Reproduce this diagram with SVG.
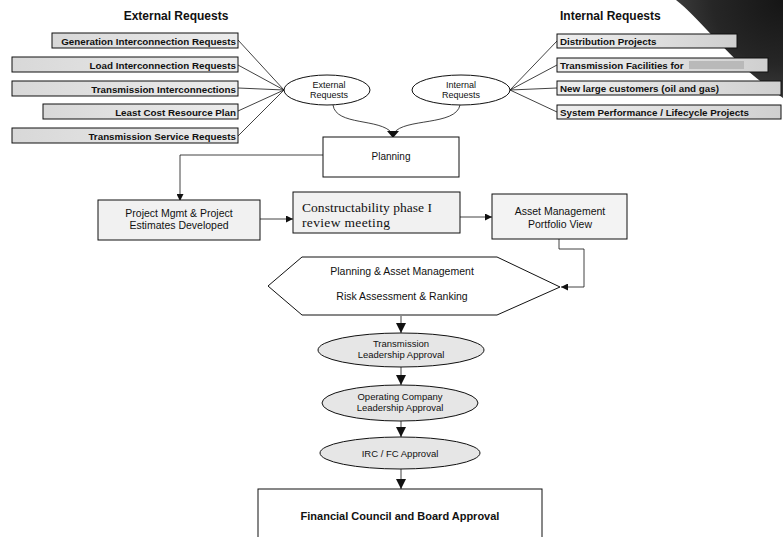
<svg xmlns="http://www.w3.org/2000/svg" width="783" height="537" viewBox="0 0 783 537">
<style>
.t{font-family:"Liberation Sans",Arial,sans-serif;fill:#111}
.title{font-size:12px;font-weight:bold}
.req{font-size:9.8px;font-weight:bold}
.lbl{font-size:10px}
.ser{font-family:"Liberation Serif","Times New Roman",serif;font-size:13.5px;fill:#111}
.box{stroke:#111;stroke-width:1}
.c{fill:none;stroke:#111;stroke-width:0.8}
</style>
<defs>
<marker id="ah" viewBox="0 0 10 10" refX="10" refY="5" markerWidth="7" markerHeight="7" orient="auto" markerUnits="userSpaceOnUse"><path d="M0,0 L10,5 L0,10 Z" fill="#111"/></marker>
<marker id="ahb" viewBox="0 0 10 10" refX="10" refY="5" markerWidth="10" markerHeight="10" orient="auto" markerUnits="userSpaceOnUse"><path d="M0,0 L10,5 L0,10 Z" fill="#111"/></marker>
<linearGradient id="lg" x1="0" x2="1" y1="0" y2="0"><stop offset="0" stop-color="#d8d8d8"/><stop offset="0.5" stop-color="#e2e2e2"/><stop offset="1" stop-color="#ececec"/></linearGradient>
<linearGradient id="rg" x1="0" x2="1" y1="0" y2="0"><stop offset="0" stop-color="#eeeeee"/><stop offset="0.5" stop-color="#e0e0e0"/><stop offset="1" stop-color="#cfcfcf"/></linearGradient>
<radialGradient id="curl" cx="1" cy="0" r="1.1"><stop offset="0" stop-color="#151515"/><stop offset="0.6" stop-color="#262626"/><stop offset="0.9" stop-color="#3a3a3a"/><stop offset="1" stop-color="#5a5a5a"/></radialGradient>
</defs>
<rect width="783" height="537" fill="#fff"/>
<path d="M676 0 C702 20 730 62 783 98 L783 0 Z" fill="url(#curl)"/>

<text class="t title" x="176" y="20" text-anchor="middle">External Requests</text>
<text class="t title" x="560" y="20">Internal Requests</text>

<g id="connectors">
<path class="c" d="M238 40 L284 90 M238 65 L284 90 M238 88 L284 90 M238 111 L284 90 M238 136 L284 90"/>
<path class="c" d="M510 90 L557 41 M510 90 L557 65 M510 90 L557 88 M510 90 L557 112"/>
<path class="c" d="M333 105 C336 126 380 118 392 133"/>
<path class="c" d="M460 105 C456 126 404 118 394 133"/>
<path d="M387 131 L399 131 L393 138 Z" fill="#111"/>
<path class="c" d="M323 155 H180 V201" marker-end="url(#ah)"/>
<path class="c" d="M260 219 H293" marker-end="url(#ah)"/>
<path class="c" d="M460 217 H492" marker-end="url(#ah)"/>
<path class="c" d="M559 239 V249 H584 V287 H561" marker-end="url(#ah)"/>
<path class="c" d="M401 316 V333" marker-end="url(#ahb)"/>
<path class="c" d="M401 367 V385" marker-end="url(#ahb)"/>
<path class="c" d="M401 421 V437" marker-end="url(#ahb)"/>
<path class="c" d="M401 469 V489" marker-end="url(#ahb)"/>
</g>

<g id="ext1"><rect class="box" x="52" y="33" width="186" height="15" fill="url(#lg)"/><text class="t req" x="236" y="44.5" text-anchor="end">Generation Interconnection Requests</text></g>
<g id="ext2"><rect class="box" x="12" y="57" width="226" height="15" fill="url(#lg)"/><text class="t req" x="236" y="68.5" text-anchor="end">Load Interconnection Requests</text></g>
<g id="ext3"><rect class="box" x="12" y="81" width="226" height="15" fill="url(#lg)"/><text class="t req" x="236" y="92.5" text-anchor="end">Transmission Interconnections</text></g>
<g id="ext4"><rect class="box" x="43" y="104" width="195" height="15" fill="url(#lg)"/><text class="t req" x="236" y="115.5" text-anchor="end">Least Cost Resource Plan</text></g>
<g id="ext5"><rect class="box" x="12" y="128" width="226" height="15" fill="url(#lg)"/><text class="t req" x="236" y="139.5" text-anchor="end">Transmission Service Requests</text></g>

<g id="int1"><rect class="box" x="557" y="34" width="180" height="14" fill="url(#rg)"/><text class="t req" x="560" y="44.5">Distribution Projects</text></g>
<g id="int2"><rect class="box" x="557" y="58" width="211" height="14" fill="url(#rg)"/><text class="t req" x="560" y="68.5">Transmission Facilities for</text><rect x="689" y="61" width="55" height="8" fill="#b9b9b9"/></g>
<g id="int3"><rect class="box" x="557" y="81" width="224" height="14" fill="url(#rg)"/><text class="t req" x="560" y="91.5">New large customers (oil and gas)</text></g>
<g id="int4"><rect class="box" x="557" y="105" width="224" height="14" fill="url(#rg)"/><text class="t req" x="560" y="115.5">System Performance / Lifecycle Projects</text></g>

<g id="extEll"><ellipse class="box" cx="327" cy="90" rx="43" ry="15" fill="#fff"/><text class="t" font-size="9" x="329" y="88" text-anchor="middle">External</text><text class="t" font-size="9" x="329" y="98" text-anchor="middle">Requests</text></g>
<g id="intEll"><ellipse class="box" cx="461" cy="90" rx="49" ry="15" fill="#fff"/><text class="t" font-size="9" x="461" y="88" text-anchor="middle">Internal</text><text class="t" font-size="9" x="461" y="98" text-anchor="middle">Requests</text></g>

<g id="planning"><rect class="box" x="323" y="137" width="136" height="40" fill="#fff"/><text class="t lbl" x="391" y="160" text-anchor="middle">Planning</text></g>
<g id="pm"><rect class="box" x="98" y="200" width="162" height="40" fill="#f1f1f1"/><text class="t" font-size="10.5" x="179" y="217" text-anchor="middle">Project Mgmt &amp; Project</text><text class="t" font-size="10.5" x="179" y="229" text-anchor="middle">Estimates Developed</text></g>
<g id="construct"><rect class="box" x="293" y="192" width="167" height="41" fill="#f1f1f1"/><text class="ser" x="302" y="212" textLength="130" lengthAdjust="spacing">Constructability phase I</text><text class="ser" x="302" y="227" textLength="88" lengthAdjust="spacing">review meeting</text></g>
<g id="asset"><rect class="box" x="492" y="194" width="135" height="45" fill="#f3f3f3"/><text class="t" font-size="10.5" x="560" y="215" text-anchor="middle">Asset Management</text><text class="t" font-size="10.5" x="560" y="228" text-anchor="middle">Portfolio View</text></g>
<g id="risk"><path class="box" d="M268 286 L302 257 L497 257 L560 287 L497 315 L302 315 Z" fill="#fff"/><text class="t" font-size="10.5" x="402" y="275" text-anchor="middle">Planning &amp; Asset Management</text><text class="t" font-size="10.5" x="402" y="300" text-anchor="middle">Risk Assessment &amp; Ranking</text></g>
<g id="tla"><ellipse class="box" cx="401" cy="350" rx="83" ry="17" fill="#e6e6e6"/><text class="t" font-size="9.5" x="401" y="347" text-anchor="middle">Transmission</text><text class="t" font-size="9.5" x="401" y="358" text-anchor="middle">Leadership Approval</text></g>
<g id="oca"><ellipse class="box" cx="400" cy="403" rx="78" ry="18" fill="#e6e6e6"/><text class="t" font-size="9.5" x="400" y="400" text-anchor="middle">Operating Company</text><text class="t" font-size="9.5" x="400" y="411" text-anchor="middle">Leadership Approval</text></g>
<g id="irc"><ellipse class="box" cx="400" cy="453" rx="80" ry="16" fill="#e6e6e6"/><text class="t" font-size="9.5" x="400" y="457" text-anchor="middle">IRC / FC Approval</text></g>
<g id="fin"><rect class="box" x="258" y="489" width="284" height="52" fill="#fff"/><text class="t" font-size="11" font-weight="bold" x="400" y="520" text-anchor="middle">Financial Council and Board Approval</text></g>
</svg>
